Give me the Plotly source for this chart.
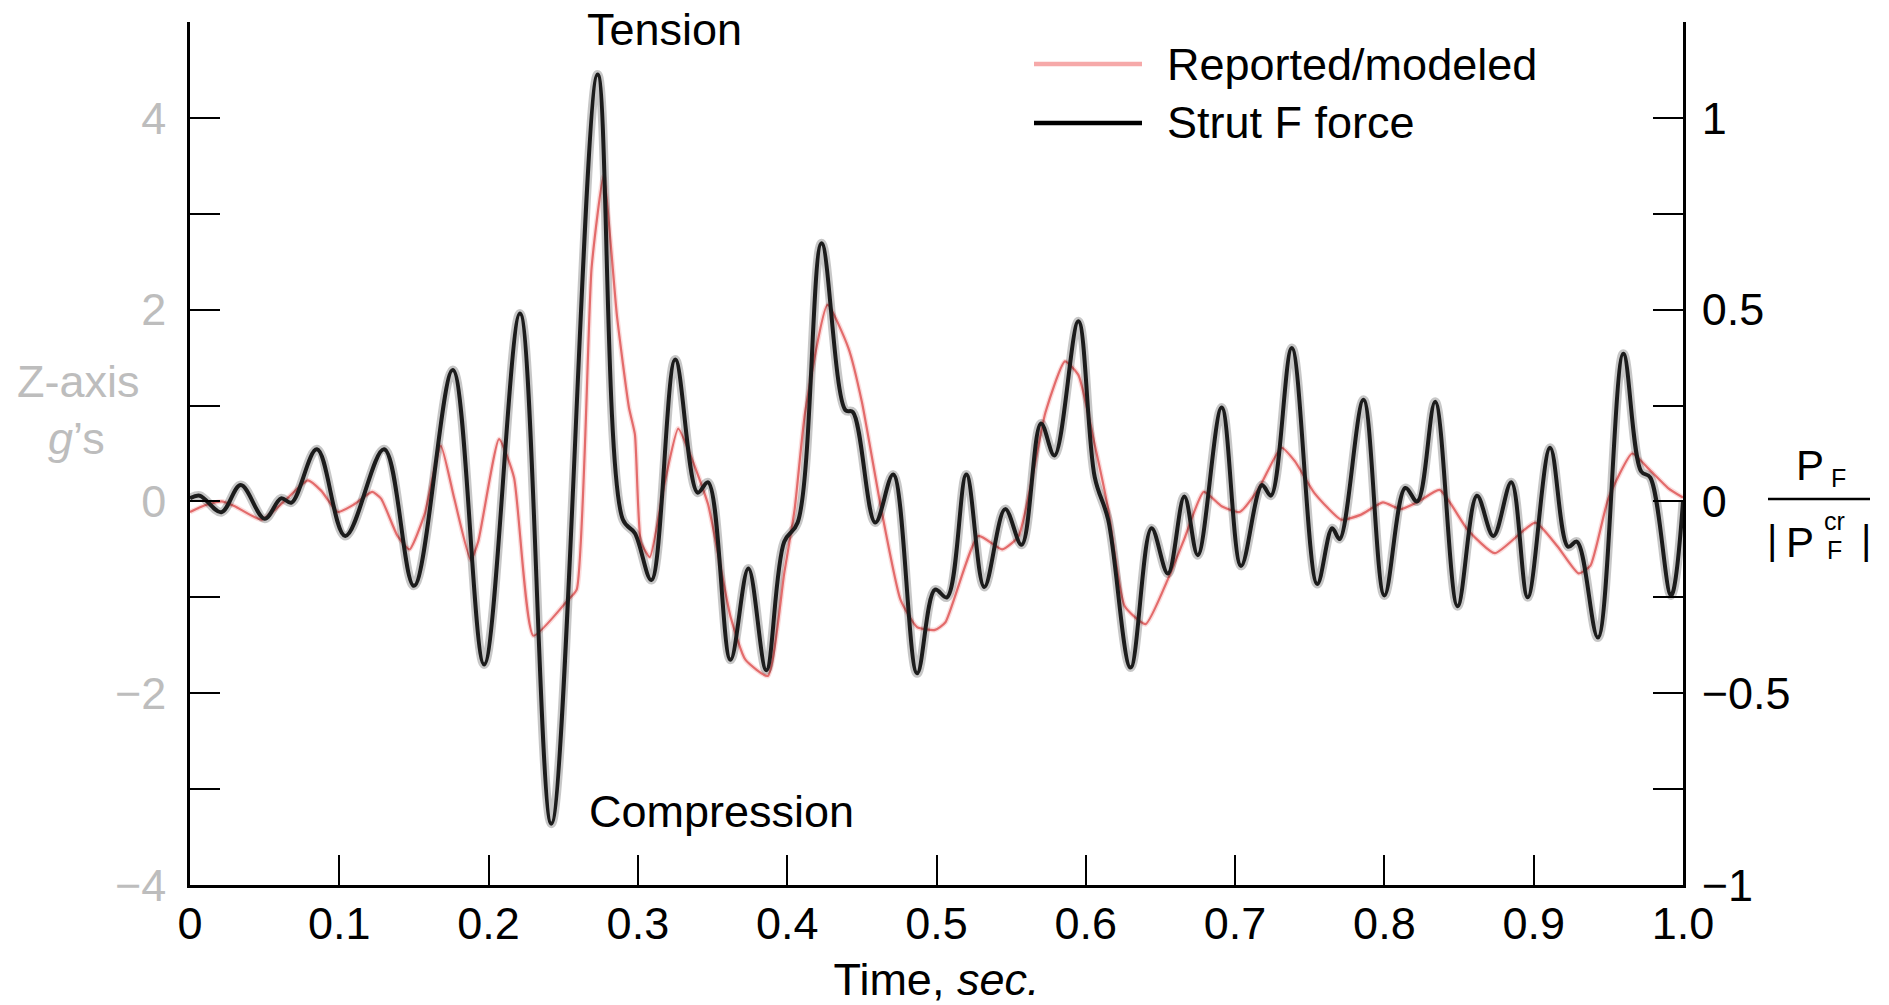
import plotly.graph_objects as go

# Reported/modeled Z-axis acceleration, g's (left axis)
time_red = [0.000, 0.010, 0.021, 0.030, 0.048, 0.063, 0.079, 0.088, 0.099, 0.110,
            0.122, 0.128, 0.139, 0.147, 0.157, 0.168, 0.177, 0.188, 0.193, 0.207,
            0.217, 0.230, 0.253, 0.259, 0.269, 0.277, 0.286, 0.294, 0.298, 0.302,
            0.308, 0.318, 0.327, 0.336, 0.347, 0.362, 0.372, 0.387, 0.398, 0.405,
            0.412, 0.427, 0.441, 0.450, 0.463, 0.476, 0.487, 0.499, 0.506, 0.528,
            0.544, 0.555, 0.573, 0.586, 0.595, 0.606, 0.615, 0.626, 0.640, 0.655,
            0.666, 0.679, 0.691, 0.703, 0.716, 0.731, 0.740, 0.753, 0.771, 0.784,
            0.799, 0.811, 0.823, 0.837, 0.856, 0.874, 0.901, 0.916, 0.930, 0.938,
            0.950, 0.966, 0.977, 0.990, 1.000]
accel_g = [-0.11, -0.04, 0.00, -0.05, -0.19, 0.00, 0.22, 0.11, -0.11, -0.03,
           0.10, 0.03, -0.36, -0.50, -0.14, 0.58, 0.03, -0.61, -0.42, 0.65,
           0.25, -1.40, -1.03, -0.92, 2.44, 3.39, 1.93, 0.98, 0.70, -0.42,
           -0.58, 0.20, 0.76, 0.45, -0.03, -1.20, -1.65, -1.82, -0.75, -0.08,
           0.93, 2.05, 1.60, 1.04, -0.08, -1.03, -1.31, -1.34, -1.26, -0.36,
           -0.50, -0.36, 0.93, 1.46, 1.32, 0.59, -0.08, -1.09, -1.28, -0.81,
           -0.39, 0.10, -0.05, -0.11, 0.14, 0.56, 0.42, 0.09, -0.19, -0.14,
           -0.01, -0.08, 0.00, 0.12, -0.30, -0.54, -0.22, -0.47, -0.75, -0.67,
           0.03, 0.50, 0.34, 0.14, 0.04]

# Strut F axial force normalised by its critical load, P_F/|P_F^cr| (right axis)
time_black = [0.000, 0.0065, 0.021, 0.034, 0.050, 0.061, 0.068, 0.085, 0.104, 0.130,
              0.150, 0.176, 0.197, 0.221, 0.242, 0.273, 0.290, 0.298, 0.309, 0.325,
              0.340, 0.347, 0.362, 0.374, 0.386, 0.398, 0.407, 0.423, 0.439, 0.444,
              0.459, 0.471, 0.487, 0.499, 0.507, 0.520, 0.532, 0.546, 0.557, 0.570,
              0.579, 0.595, 0.606, 0.615, 0.630, 0.644, 0.655, 0.666, 0.675, 0.691,
              0.704, 0.718, 0.724, 0.738, 0.755, 0.765, 0.770, 0.786, 0.800, 0.814,
              0.822, 0.834, 0.849, 0.862, 0.873, 0.885, 0.896, 0.911, 0.923, 0.929,
              0.943, 0.960, 0.972, 0.978, 0.992, 1.000]
strut_force = [0.008, 0.015, -0.028, 0.043, -0.045, 0.008, -0.003, 0.136, -0.090, 0.136,
               -0.220, 0.343, -0.425, 0.490, -0.840, 1.113, -0.048, -0.083, -0.205, 0.370,
               0.023, 0.050, -0.413, -0.175, -0.440, -0.105, -0.055, 0.673, 0.238, 0.233,
               -0.055, 0.070, -0.448, -0.230, -0.250, 0.070, -0.223, -0.020, -0.113, 0.203,
               0.120, 0.470, 0.063, -0.048, -0.433, -0.070, -0.188, 0.013, -0.140, 0.245,
               -0.168, 0.043, 0.015, 0.400, -0.215, -0.070, -0.098, 0.265, -0.245, 0.035,
               0.000, 0.260, -0.273, 0.015, -0.090, 0.050, -0.250, 0.140, -0.118, -0.105,
               -0.355, 0.385, 0.078, 0.063, -0.245, 0.000]

x_ticks = [0, 0.1, 0.2, 0.3, 0.4, 0.5, 0.6, 0.7, 0.8, 0.9, 1.0]
x_tick_text = ["0", "0.1", "0.2", "0.3", "0.4", "0.5", "0.6", "0.7", "0.8", "0.9", "1.0"]
left_ticks = [-4, -3, -2, -1, 0, 1, 2, 3, 4, 5]
left_tick_text = ["\u22124", "", "\u22122", "", "0", "", "2", "", "4", ""]
right_ticks = [-1, -0.75, -0.5, -0.25, 0, 0.25, 0.5, 0.75, 1, 1.25]
right_tick_text = ["\u22121", "", "\u22120.5", "", "0", "", "0.5", "", "1", ""]

W, H = 1889, 1005
ML, MR, MT, MB = 190, 206, 22, 120
PW, PH = W - ML - MR, H - MT - MB

FONT = "Liberation Sans, Arial, Helvetica, sans-serif"
GRAY = "#bdbdbd"
RED = "#e36b6b"
PINK = "#f6a9a9"


def px(xp):
    return (xp - ML) / PW


def py(yp):
    return (H - MB - yp) / PH


fig = go.Figure()

# reported/modeled acceleration (soft halo + core)
fig.add_trace(go.Scatter(x=time_red, y=accel_g, mode="lines", yaxis="y",
                         line=dict(color="rgba(235,120,120,0.25)", width=5,
                                   shape="spline", smoothing=0.5),
                         hoverinfo="skip", showlegend=False))
fig.add_trace(go.Scatter(x=time_red, y=accel_g, mode="lines", yaxis="y",
                         name="Reported/modeled",
                         line=dict(color=RED, width=2.2, shape="spline", smoothing=0.5),
                         showlegend=False))

# strut force (soft halo + core)
fig.add_trace(go.Scatter(x=time_black, y=strut_force, mode="lines", yaxis="y2",
                         line=dict(color="rgba(0,0,0,0.22)", width=9,
                                   shape="spline", smoothing=1),
                         hoverinfo="skip", showlegend=False))
fig.add_trace(go.Scatter(x=time_black, y=strut_force, mode="lines", yaxis="y2",
                         name="Strut F force",
                         line=dict(color="#1c1c1c", width=4, shape="spline", smoothing=1),
                         showlegend=False))

axis_common = dict(showline=True, linecolor="black", linewidth=2.5,
                   ticks="inside", ticklen=30, tickwidth=2, tickcolor="black",
                   showgrid=False, zeroline=False, tickmode="array")

fig.update_layout(
    width=W, height=H,
    margin=dict(l=ML, r=MR, t=MT, b=MB, autoexpand=False),
    paper_bgcolor="white", plot_bgcolor="white",
    font=dict(family=FONT, size=45, color="black"),
    xaxis=dict(range=[0, 1], tickvals=x_ticks, ticktext=x_tick_text,
               tickfont=dict(size=45, color="black"), ticklabelstandoff=-3,
               title=dict(text="Time, <i>sec.</i>", font=dict(size=45), standoff=24),
               **axis_common),
    yaxis=dict(range=[-4, 5], tickvals=left_ticks, ticktext=left_tick_text,
               tickfont=dict(size=45, color=GRAY), ticklabelstandoff=12,
               **axis_common),
    yaxis2=dict(range=[-1, 1.25], overlaying="y", side="right",
                tickvals=right_ticks, ticktext=right_tick_text,
                tickfont=dict(size=45, color="black"), ticklabelstandoff=7,
                **axis_common),
)

ann = []
# left axis title
ann.append(dict(text="Z-axis", x=px(78), y=py(381), xref="paper", yref="paper",
                xanchor="center", yanchor="middle", showarrow=False,
                font=dict(size=45, color=GRAY)))
ann.append(dict(text="<i>g</i>\u2019s", x=px(76), y=py(438), xref="paper", yref="paper",
                xanchor="center", yanchor="middle", showarrow=False,
                font=dict(size=45, color=GRAY)))


# right axis title: P_F / |P_F^cr|
def label(text, xp, yp, size):
    ann.append(dict(text=text, x=px(xp), y=py(yp), xref="paper", yref="paper",
                    xanchor="center", yanchor="middle", showarrow=False,
                    borderpad=0, font=dict(size=size, color="black")))


label("P", 1810, 465, 42)
label("F", 1838, 478, 25)
label("|", 1772, 540, 40)
label("P", 1800, 542, 42)
label("cr", 1834, 521, 25)
label("F", 1834, 550, 25)
label("|", 1866, 540, 40)

# curve annotations
ann.append(dict(text="Tension", x=px(585), y=py(30), xref="paper", yref="paper",
                xanchor="left", yanchor="middle", showarrow=False,
                font=dict(size=45, color="black")))
ann.append(dict(text="Compression", x=px(587), y=py(811), xref="paper", yref="paper",
                xanchor="left", yanchor="middle", showarrow=False,
                font=dict(size=45, color="black")))

# legend entries
ann.append(dict(text="Reported/modeled", x=px(1165), y=py(64), xref="paper", yref="paper",
                xanchor="left", yanchor="middle", showarrow=False,
                font=dict(size=45, color="black")))
ann.append(dict(text="Strut F force", x=px(1165), y=py(123), xref="paper", yref="paper",
                xanchor="left", yanchor="middle", showarrow=False,
                font=dict(size=45, color="black")))

shapes = [
    dict(type="line", xref="paper", yref="paper", x0=px(1034), x1=px(1142),
         y0=py(64), y1=py(64), line=dict(color=PINK, width=4.5)),
    dict(type="line", xref="paper", yref="paper", x0=px(1034), x1=px(1142),
         y0=py(123), y1=py(123), line=dict(color="black", width=4.5)),
    # fraction bar of the right axis title
    dict(type="line", xref="paper", yref="paper", x0=px(1768), x1=px(1870),
         y0=py(499), y1=py(499), line=dict(color="black", width=2.5)),
]

fig.update_layout(annotations=ann, shapes=shapes)

fig.write_html("out.html")
